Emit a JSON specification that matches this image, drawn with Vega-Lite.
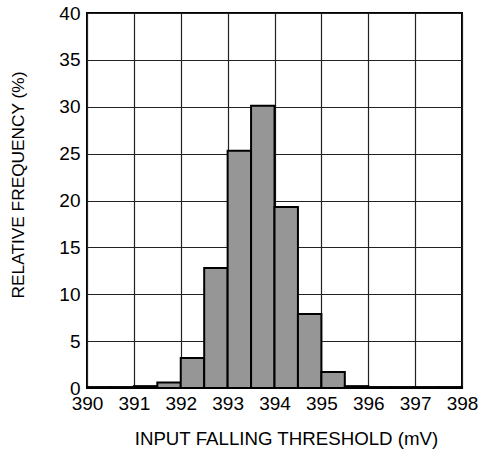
{
  "$schema": "https://vega.github.io/schema/vega-lite/v6.json",
  "width": 375,
  "height": 375,
  "autosize": {"type": "none"},
  "padding": {"left": 87, "top": 13, "right": 18, "bottom": 66},
  "config": {
    "font": "Liberation Sans",
    "view": {"stroke": "black", "strokeWidth": 2},
    "axis": {
      "labelFont": "Liberation Sans",
      "titleFont": "Liberation Sans",
      "labelFontSize": 19,
      "titleFontSize": 19,
      "labelColor": "black",
      "titleColor": "black",
      "titleFontWeight": "normal",
      "gridColor": "#222",
      "gridOpacity": 1,
      "gridWidth": 1.2,
      "domain": false,
      "ticks": false,
      "labelOverlap": false,
      "labelFlush": false
    }
  },
  "data": {
    "values": [
      {"lo": 390.0, "hi": 390.5, "f": 0.1},
      {"lo": 390.5, "hi": 391.0, "f": 0.1},
      {"lo": 391.0, "hi": 391.5, "f": 0.2},
      {"lo": 391.5, "hi": 392.0, "f": 0.6},
      {"lo": 392.0, "hi": 392.5, "f": 3.2},
      {"lo": 392.5, "hi": 393.0, "f": 12.8},
      {"lo": 393.0, "hi": 393.5, "f": 25.3},
      {"lo": 393.5, "hi": 394.0, "f": 30.1},
      {"lo": 394.0, "hi": 394.5, "f": 19.3},
      {"lo": 394.5, "hi": 395.0, "f": 7.9},
      {"lo": 395.0, "hi": 395.5, "f": 1.7},
      {"lo": 395.5, "hi": 396.0, "f": 0.2},
      {"lo": 396.0, "hi": 396.5, "f": 0.1},
      {"lo": 396.5, "hi": 397.0, "f": 0.1},
      {"lo": 397.0, "hi": 397.5, "f": 0.1},
      {"lo": 397.5, "hi": 398.0, "f": 0.1}
    ]
  },
  "mark": {"type": "rect", "fill": "#969696", "stroke": "black", "strokeWidth": 2},
  "encoding": {
    "x": {
      "field": "lo",
      "type": "quantitative",
      "scale": {"domain": [390, 398], "nice": false, "zero": false},
      "axis": {"values": [390, 391, 392, 393, 394, 395, 396, 397, 398], "format": "d", "title": "INPUT FALLING THRESHOLD (mV)", "titleFontSize": 18.7, "titleX": 199, "labelPadding": 6, "titlePadding": 16}
    },
    "x2": {"field": "hi"},
    "y": {
      "field": "f",
      "type": "quantitative",
      "scale": {"domain": [0, 40], "nice": false},
      "axis": {"values": [0, 5, 10, 15, 20, 25, 30, 35, 40], "title": "RELATIVE FREQUENCY (%)", "titleFontSize": 17.3, "titleY": 171.5, "labelPadding": 7, "titlePadding": 31}
    }
  }
}
